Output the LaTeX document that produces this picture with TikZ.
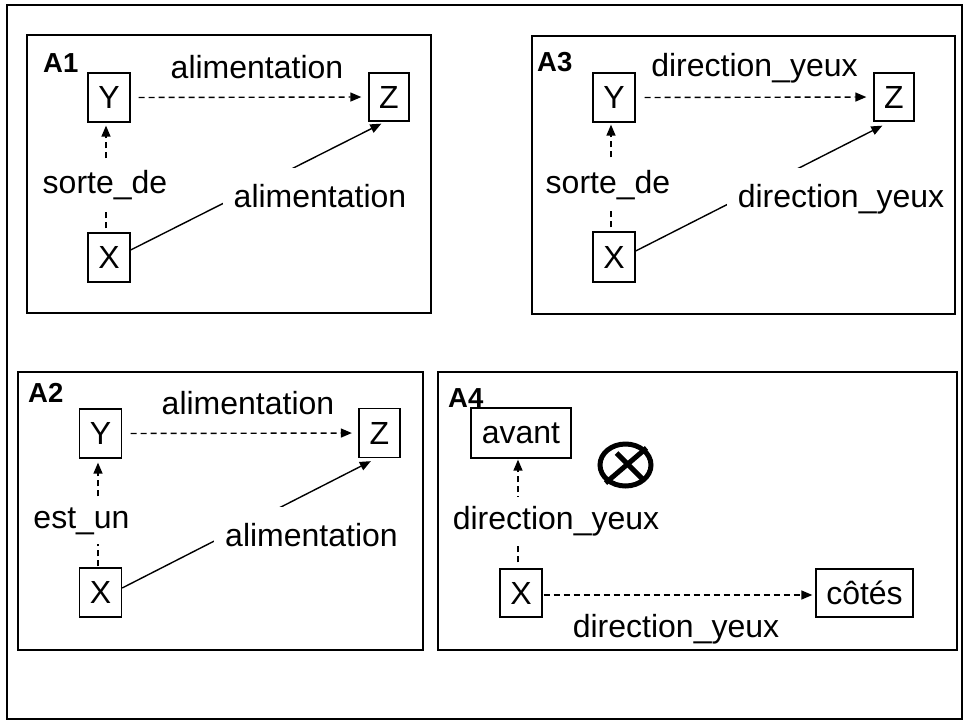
\documentclass[tikz,border=0pt]{standalone}
\usepackage{fontspec}
\setmainfont{Liberation Sans}
\usetikzlibrary{arrows.meta,calc}
\newcommand\labfont{\fontsize{32}{38}\selectfont}
\newcommand\tagfont{\fontsize{27.5}{32}\selectfont\bfseries}
\tikzset{
  box/.style={draw,line width=1.3pt,inner sep=0pt,minimum width=42pt,minimum height=49pt,font=\labfont},
  lbl/.style={font=\labfont,inner sep=0pt},
  vcut/.style={lbl,fill=white,inner xsep=4pt,inner ysep=9.5pt},
  dcut/.style={lbl,fill=white,inner xsep=11pt,inner ysep=16pt},
  panel/.style={draw,line width=1.4pt},
  tag/.style={font=\tagfont,anchor=west,inner sep=0pt},
  rel/.style={line width=1.4pt,dash pattern=on 6pt off 4pt,-{Triangle[length=11pt,width=9pt]}},
  attr/.style={line width=1.4pt,-{Triangle[length=11pt,width=9pt]}},
  negmark/.style={line width=5pt},
}
\begin{document}
\begin{tikzpicture}[x=1pt,y=-1pt]
\useasboundingbox (0,0) rectangle (964,721);
\draw[line width=2.5pt] (7,5) rectangle (962,719);

% ---------- A1 ----------
\node[tag] (t1) at (43,63) {A1};
\node[box] (Y1) at (109,97.5) {Y};
\node[box,minimum width=40pt,minimum height=48pt] (Z1) at (389,97) {Z};
\node[box] (X1) at (109,257.5) {X};
\draw[rel,shorten <=8pt,shorten >=7pt] (Y1.east) -- (Z1.west);
\draw[rel,shorten <=4pt,shorten >=3pt] ([xshift=-3pt]X1.north) -- ([xshift=-3pt]Y1.south);
\draw[attr] ([yshift=7.5pt]X1.east) -- ([xshift=13pt,yshift=-2pt]Z1.south west);
\node[lbl] (l1a) at (257,67) {alimentation};
\node[vcut] (l1b) at (105,185) {sorte\_de};
\node[dcut] (l1c) at (320,196) {alimentation};
\draw[panel] (27,35) rectangle (431,313);

% ---------- A3 ----------
\node[tag] (t3) at (537,62) {A3};
\node[box] (Y3) at (614,97.5) {Y};
\node[box,minimum width=40pt,minimum height=48pt] (Z3) at (894,97) {Z};
\node[box,minimum height=50pt] (X3) at (614,257) {X};
\draw[rel,shorten <=9pt,shorten >=7pt] (Y3.east) -- (Z3.west);
\draw[rel,shorten <=4pt,shorten >=2pt] ([xshift=-3pt]X3.north) -- ([xshift=-3pt]Y3.south);
\draw[attr] ([yshift=6pt]X3.east) -- ([xshift=9pt,yshift=-4pt]Z3.south west);
\node[lbl] (l3a) at (754.5,68) {direction\_yeux};
\node[vcut] (l3b) at (608,185) {sorte\_de};
\node[dcut] (l3c) at (841,199) {direction\_yeux};
\draw[panel] (532,36) rectangle (955,314);

% ---------- A2 ----------
\node[tag] (t2) at (28,393) {A2};
\node[box] (Y2) at (100.5,433.5) {Y};
\node[box,minimum width=41pt] (Z2) at (379.5,433) {Z};
\node[box] (X2) at (100.5,592.5) {X};
\draw[rel,shorten <=8.5pt,shorten >=6.5pt] (Y2.east) -- (Z2.west);
\draw[rel,shorten <=1pt,shorten >=4pt] ([xshift=-2.5pt]X2.north) -- ([xshift=-2.5pt]Y2.south);
\draw[attr] ([yshift=4.5pt]X2.east) -- ([xshift=12.5pt,yshift=-3pt]Z2.south west);
\node[lbl] (l2a) at (248,403) {alimentation};
\node[vcut] (l2b) at (81.5,521) {est\_un};
\node[dcut] (l2c) at (311.5,535) {alimentation};
\draw[panel] (18,372) rectangle (423,650);

% ---------- A4 ----------
\node[tag] (t4) at (448,398) {A4};
\node[box,minimum width=100pt,minimum height=50pt] (av) at (521,433) {avant};
\node[box,minimum height=48pt] (X4) at (521,593) {X};
\node[box,minimum width=97pt,minimum height=48pt] (co) at (864.5,593) {côtés};
% crossed circle
\coordinate (neg) at (625.5,465);
\draw[negmark] (neg) ellipse [x radius=25.5, y radius=21];
\draw[negmark] ($(neg)+(21,-17)$) -- ($(neg)+(-20,18)$);
\draw[negmark] ($(neg)+(-9,-12)$) -- ($(neg)+(18,15)$);
\draw[rel,shorten <=6pt,shorten >=1pt] ([xshift=-3pt]X4.north) -- ([xshift=-3pt]av.south);
\draw[rel,shorten <=1pt,shorten >=3pt] ([yshift=-2pt]X4.east) -- ([yshift=-2pt]co.west);
\node[vcut] (l4a) at (556,521) {direction\_yeux};
\node[lbl] (l4b) at (676,629) {direction\_yeux};
\draw[panel] (438,372) rectangle (957,650);
\end{tikzpicture}
\end{document}
